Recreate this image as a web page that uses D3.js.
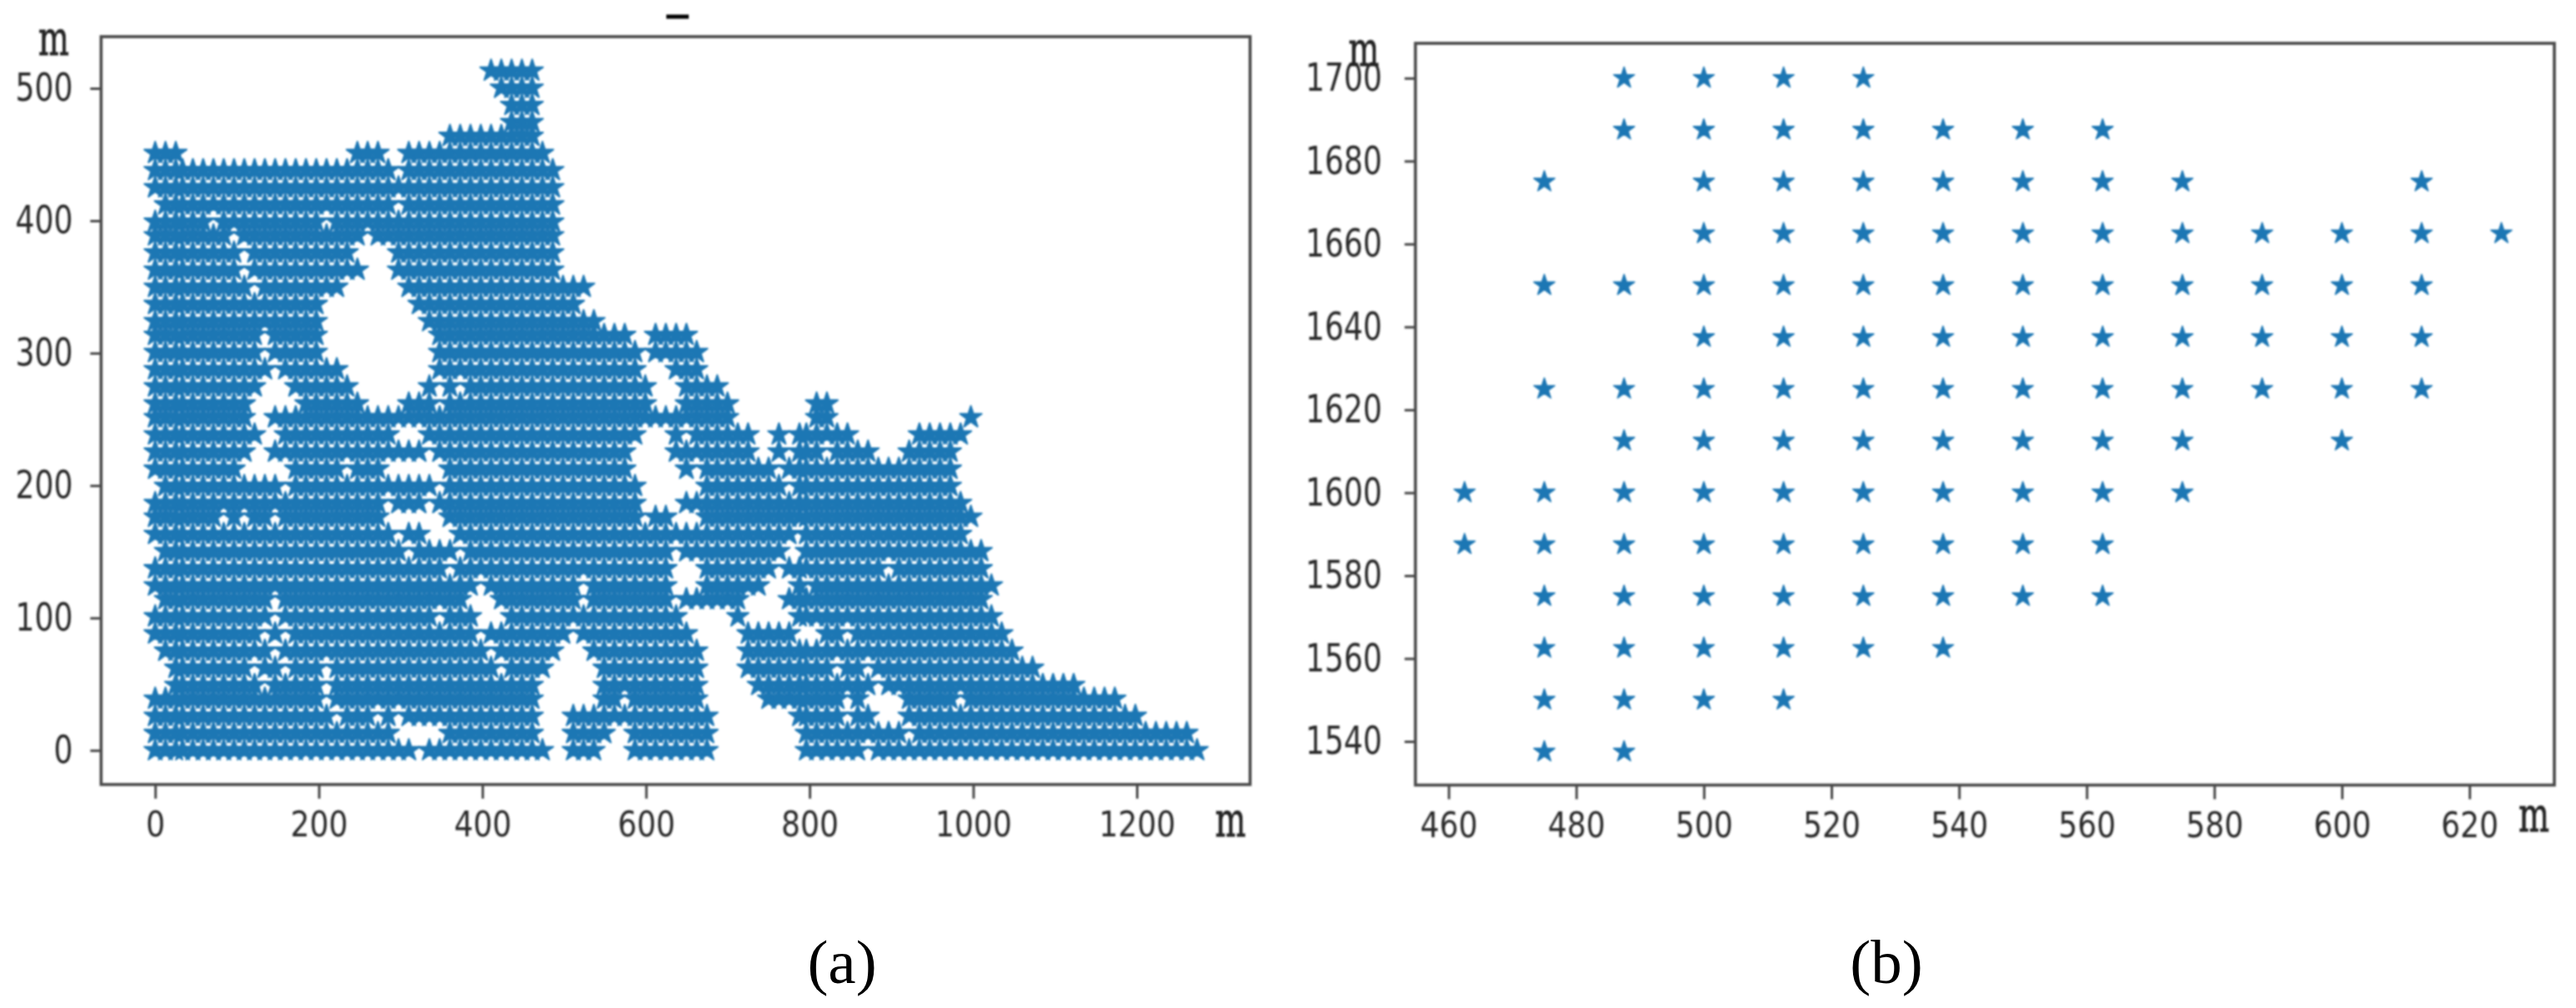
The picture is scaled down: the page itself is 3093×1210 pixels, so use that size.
<!DOCTYPE html>
<html>
<head>
<meta charset="utf-8">
<script src="https://cdn.jsdelivr.net/npm/d3@7"></script>
<style>
html,body{margin:0;padding:0;background:#fff;}
svg{display:block;}
</style>
</head>
<body>
<svg id="chart" width="3093" height="1210"></svg>
<script>
// ---------- Panel (a): survey grid, 12.5 m spacing. Each row: [y metres, runs of occupied column numbers]
const gridStep = 12.5;
const aRows = [
[512.5,[[33,37]]],
[500,[[34,37]]],
[487.5,[[35,37]]],
[475,[[35,37]]],
[462.5,[[29,37]]],
[450,[[0,2],[20,22],[25,38]]],
[437.5,[[0,23],[25,39]]],
[425,[[0,39]]],
[412.5,[[1,23],[25,39]]],
[400,[[0,5],[7,16],[18,39]]],
[387.5,[[0,7],[9,20],[22,39]]],
[375,[[0,8],[10,19],[24,39]]],
[362.5,[[0,8],[10,20],[24,39]]],
[350,[[0,9],[11,18],[25,42]]],
[337.5,[[0,16],[26,41]]],
[325,[[0,16],[27,43]]],
[312.5,[[0,10],[12,16],[28,46],[49,52]]],
[300,[[0,10],[12,16],[28,47],[49,53]]],
[287.5,[[0,11],[13,18],[28,47],[51,53]]],
[275,[[0,10],[14,19],[27,27],[29,29],[31,48],[52,55]]],
[262.5,[[0,9],[15,20],[25,27],[29,48],[52,56],[65,66]]],
[250,[[0,9],[12,56],[65,66],[80,80]]],
[237.5,[[0,10],[13,23],[27,47],[51,51],[53,58],[61,61],[63,68],[75,79]]],
[225,[[0,9],[12,26],[28,46],[51,58],[61,61],[63,65],[67,70],[74,78]]],
[212.5,[[0,8],[14,18],[20,22],[29,46],[52,52],[54,60],[62,78]]],
[200,[[1,12],[14,27],[29,47],[54,61],[63,78]]],
[187.5,[[0,22],[24,26],[28,47],[52,79]]],
[175,[[0,6],[8,8],[10,11],[13,22],[29,47],[49,50],[54,80]]],
[162.5,[[0,23],[25,26],[30,62],[64,79]]],
[150,[[1,24],[26,29],[31,50],[52,61],[64,81]]],
[137.5,[[0,28],[30,50],[54,60],[62,71],[73,81]]],
[125,[[0,31],[33,41],[43,50],[54,59],[63,63],[65,82]]],
[112.5,[[1,11],[13,30],[34,41],[43,50],[52,57],[62,81]]],
[100,[[0,11],[13,27],[29,31],[35,51],[57,57],[63,82]]],
[87.5,[[0,10],[12,12],[14,31],[33,40],[42,52],[58,62],[66,67],[69,83]]],
[75,[[1,11],[13,32],[34,39],[43,53],[58,84]]],
[62.5,[[2,9],[11,12],[14,16],[18,33],[35,38],[44,53],[58,66],[68,69],[71,86]]],
[50,[[2,10],[12,16],[18,37],[44,53],[59,70],[72,90]]],
[37.5,[[0,16],[18,37],[44,45],[47,53],[60,67],[69,69],[74,78],[80,94]]],
[25,[[0,17],[19,21],[23,23],[25,37],[41,54],[63,67],[69,70],[74,96]]],
[12.5,[[0,23],[29,37],[41,44],[47,54],[64,73],[75,101]]],
[0,[[0,25],[27,38],[41,43],[47,54],[64,69],[71,102]]]
];
const aXTicks = [0,200,400,600,800,1000,1200];
const aYTicks = [0,100,200,300,400,500];

// ---------- Panel (b): detail of the grid, read star by star
const bRowY = [1700,1687.5,1675,1662.5,1650,1637.5,1625,1612.5,1600,1587.5,1575,1562.5,1550,1537.5];
const bRowX = [
[487.5,500,512.5,525],
[487.5,500,512.5,525,537.5,550,562.5],
[475,500,512.5,525,537.5,550,562.5,575,612.5],
[500,512.5,525,537.5,550,562.5,575,587.5,600,612.5,625],
[475,487.5,500,512.5,525,537.5,550,562.5,575,587.5,600,612.5],
[500,512.5,525,537.5,550,562.5,575,587.5,600,612.5],
[475,487.5,500,512.5,525,537.5,550,562.5,575,587.5,600,612.5],
[487.5,500,512.5,525,537.5,550,562.5,575,600],
[462.5,475,487.5,500,512.5,525,537.5,550,562.5,575],
[462.5,475,487.5,500,512.5,525,537.5,550,562.5],
[475,487.5,500,512.5,525,537.5,550,562.5],
[475,487.5,500,512.5,525,537.5],
[475,487.5,500,512.5],
[475,487.5]
];
const bXTicks = [460,480,500,520,540,560,580,600,620];
const bYTicks = [1540,1560,1580,1600,1620,1640,1660,1680,1700];

const axisUnit = "m";
const panelLabels = ["(a)","(b)"];

// ---------- Drawing
const svg = d3.select("#chart");
const defs = svg.append("defs");
const blur = defs.append("filter").attr("id","soft")
  .attr("filterUnits","userSpaceOnUse").attr("x",0).attr("y",0).attr("width",3093).attr("height",1210);
blur.append("feGaussianBlur").attr("stdDeviation",1.1);

const BLUE = "#1f77b4", INK = "#2b2b2b", SPINE = "#484848";
const starA = d3.symbol().type(d3.symbolStar).size(212)();
const starB = d3.symbol().type(d3.symbolStar).size(196)();

// the source was a low-resolution raster: markers land on its pixel grid
const snapUp = (v,o,s,c)=>o+s*Math.round((v-o)/s+c);
const snapDown = (v,o,s,c)=>o-s*Math.round((o-v)/s+c);

function frame(g,x,y){
  const [x0,x1]=x.range(), [y0,y1]=y.range();
  g.append("rect").attr("x",x0).attr("y",y1).attr("width",x1-x0).attr("height",y0-y1)
    .attr("fill","none").attr("stroke",SPINE).attr("stroke-width",3.6);
}
function axes(g,x,y,xt,yt,yPad){
  const [x0]=x.range(), [y0]=y.range();
  const gx=g.append("g").attr("transform",`translate(0,${y0})`)
    .call(d3.axisBottom(x).tickValues(xt).tickSize(17).tickPadding(15).tickFormat(d3.format("d")));
  const gy=g.append("g").attr("transform",`translate(${x0},0)`)
    .call(d3.axisLeft(y).tickValues(yt).tickSize(13).tickPadding(yPad).tickFormat(d3.format("d")));
  [gx,gy].forEach(a=>{
    a.select(".domain").remove();
    a.selectAll("line").attr("stroke",SPINE).attr("stroke-width",3);
    a.selectAll("text").attr("fill",INK).attr("font-family","'DejaVu Sans'")
      .attr("lengthAdjust","spacingAndGlyphs")
      .attr("textLength",d=>String(d).length*23);
  });
  gx.selectAll("text").attr("font-size",43);
  gy.selectAll("text").attr("font-size",46);
}
function unit(g,x,y){
  g.append("text").text(axisUnit).attr("x",x).attr("y",y)
    .attr("font-family","'DejaVu Serif'").attr("font-size",58).attr("fill","#222")
    .attr("stroke","#222").attr("stroke-width",0.8)
    .attr("textLength",37).attr("lengthAdjust","spacingAndGlyphs");
}

// Panel (a)
const ax = d3.scaleLinear().domain([-66.1,1338.5]).range([121.4,1501]);
const ay = d3.scaleLinear().domain([-25.8,539]).range([941.7,44]);
const gA = svg.append("g").attr("filter","url(#soft)");
const aPoints = aRows.flatMap(([yv,runs])=>runs.flatMap(([a,b])=>d3.range(a,b+1).map(i=>({x:i*gridStep,y:yv}))));
gA.append("g").selectAll("path").data(aPoints).join("path")
  .attr("d",starA).attr("fill",BLUE).attr("stroke",BLUE).attr("stroke-width",2).attr("stroke-linejoin","round")
  .attr("transform",d=>`translate(${snapUp(ax(d.x),ax(0),4.115,-0.46)},${snapDown(ay(d.y),ay(0),4.12,0.11)})`);
frame(gA,ax,ay);
axes(gA,ax,ay,aXTicks,aYTicks,21);
unit(gA,46,66);
unit(gA,1459,1004);
gA.append("line").attr("x1",800).attr("x2",827).attr("y1",20).attr("y2",20).attr("stroke","#000").attr("stroke-width",5);

// Panel (b)
const bx = d3.scaleLinear().domain([454.8,633.3]).range([1699.5,3067]);
const by = d3.scaleLinear().domain([1529.47,1708.4]).range([942.4,52]);
const gB = svg.append("g").attr("filter","url(#soft)");
const bPoints = bRowY.flatMap((yv,r)=>bRowX[r].map(xv=>({x:xv,y:yv})));
gB.append("g").selectAll("path").data(bPoints).join("path")
  .attr("d",starB).attr("fill",BLUE).attr("stroke",BLUE).attr("stroke-width",1.6).attr("stroke-linejoin","round")
  .attr("transform",d=>`translate(${bx(d.x)},${by(d.y)})`);
frame(gB,bx,by);
axes(gB,bx,by,bXTicks,bYTicks,27);
unit(gB,1619,79);
unit(gB,3024,998);

// Sub-figure captions
svg.selectAll("text.cap").data(panelLabels).join("text").attr("class","cap")
  .text(d=>d).attr("x",(d,i)=>[1011,2265][i]).attr("y",1180)
  .attr("text-anchor","middle").attr("font-family","'Liberation Serif'").attr("font-size",75).attr("fill","#000");
</script>
</body>
</html>
